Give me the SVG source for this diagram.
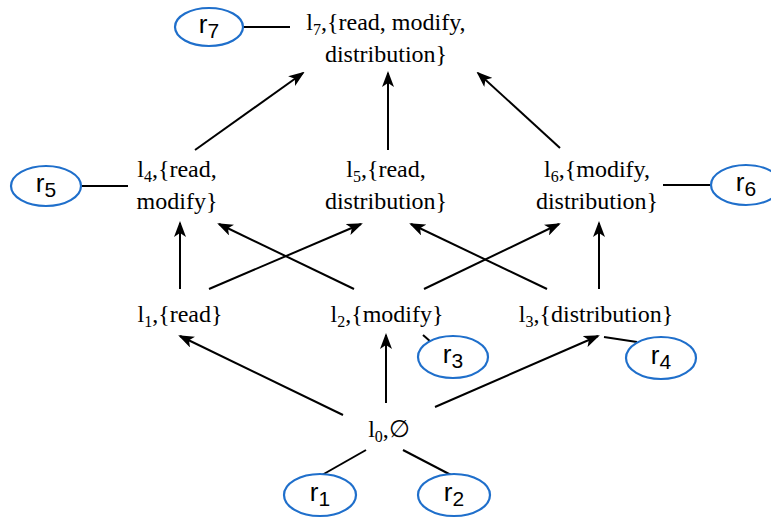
<svg xmlns="http://www.w3.org/2000/svg" width="771" height="527" viewBox="0 0 771 527">
<style>
.lbl{font-family:"Liberation Serif","Times New Roman",serif;font-size:24px;fill:#000;text-anchor:middle}
.sub{font-size:16px}
.rn{fill:#fff;stroke:#1f6fcb;stroke-width:2.2}
.rt{font-family:"Liberation Sans",Arial,sans-serif;font-size:26px;fill:#000;text-anchor:middle}
.rs{font-size:21px}
.ln{stroke:#000;stroke-width:2;fill:none}
.ar{stroke:#000;stroke-width:2;fill:none;marker-end:url(#ah)}
</style>
<defs>
<marker id="ah" viewBox="0 0 16 12" refX="14" refY="6" markerWidth="16" markerHeight="12" markerUnits="userSpaceOnUse" orient="auto">
<path d="M0,0 L16,6 L0,12 L4,6 Z" fill="#000"/>
</marker>
</defs>
<rect width="771" height="527" fill="#fff"/>
<g id="connectors">
<line class="ln" x1="243" y1="27" x2="290" y2="27"/>
<line class="ln" x1="81" y1="186" x2="128" y2="186"/>
<line class="ln" x1="663" y1="185" x2="711" y2="185"/>
<line class="ln" x1="423" y1="335" x2="431" y2="342"/>
<line class="ln" x1="604" y1="337" x2="637" y2="342"/>
<line class="ln" x1="366" y1="450" x2="322" y2="475"/>
<line class="ln" x1="403" y1="450" x2="451" y2="475"/>
<line class="ar" x1="343" y1="415" x2="180" y2="336"/>
<line class="ar" x1="386" y1="403" x2="386" y2="335"/>
<line class="ar" x1="435" y1="407" x2="598" y2="336"/>
<line class="ar" x1="180" y1="289" x2="180" y2="223"/>
<line class="ar" x1="209" y1="289" x2="361" y2="224"/>
<line class="ar" x1="354" y1="289" x2="219" y2="224"/>
<line class="ar" x1="424" y1="289" x2="559" y2="224"/>
<line class="ar" x1="547" y1="289" x2="411" y2="224"/>
<line class="ar" x1="599" y1="289" x2="599" y2="223"/>
<line class="ar" x1="195" y1="150" x2="303" y2="73"/>
<line class="ar" x1="388" y1="150" x2="388" y2="73"/>
<line class="ar" x1="560" y1="148" x2="478" y2="73"/>
</g>
<g id="l7"><text class="lbl" x="386" y="30">l<tspan class="sub" dy="5">7</tspan><tspan dy="-5">,{read, modify,</tspan></text><text class="lbl" x="386" y="62">distribution}</text></g>
<g id="l4"><text class="lbl" x="177" y="177">l<tspan class="sub" dy="5">4</tspan><tspan dy="-5">,{read,</tspan></text><text class="lbl" x="177" y="209">modify}</text></g>
<g id="l5"><text class="lbl" x="386" y="177">l<tspan class="sub" dy="5">5</tspan><tspan dy="-5">,{read,</tspan></text><text class="lbl" x="386" y="209">distribution}</text></g>
<g id="l6"><text class="lbl" x="597" y="177">l<tspan class="sub" dy="5">6</tspan><tspan dy="-5">,{modify,</tspan></text><text class="lbl" x="597" y="209">distribution}</text></g>
<g id="l1"><text class="lbl" x="180" y="322">l<tspan class="sub" dy="5">1</tspan><tspan dy="-5">,{read}</tspan></text></g>
<g id="l2"><text class="lbl" x="387" y="322">l<tspan class="sub" dy="5">2</tspan><tspan dy="-5">,{modify}</tspan></text></g>
<g id="l3"><text class="lbl" x="596" y="322">l<tspan class="sub" dy="5">3</tspan><tspan dy="-5">,{distribution}</tspan></text></g>
<g id="l0"><text class="lbl" x="389" y="437">l<tspan class="sub" dy="5">0</tspan><tspan dy="-5">,∅</tspan></text></g>
<g id="r7"><ellipse class="rn" cx="209" cy="27" rx="34" ry="19"/><text class="rt" x="209" y="33">r<tspan class="rs" dy="5">7</tspan></text></g>
<g id="r5"><ellipse class="rn" cx="46" cy="186" rx="35" ry="20"/><text class="rt" x="46" y="192">r<tspan class="rs" dy="5">5</tspan></text></g>
<g id="r6"><ellipse class="rn" cx="746" cy="185" rx="35" ry="20"/><text class="rt" x="746" y="191">r<tspan class="rs" dy="5">6</tspan></text></g>
<g id="r3"><ellipse class="rn" cx="453" cy="357" rx="35" ry="21"/><text class="rt" x="453" y="363">r<tspan class="rs" dy="5">3</tspan></text></g>
<g id="r4"><ellipse class="rn" cx="661" cy="358" rx="35" ry="21"/><text class="rt" x="661" y="364">r<tspan class="rs" dy="5">4</tspan></text></g>
<g id="r1"><ellipse class="rn" cx="320" cy="495" rx="36" ry="21"/><text class="rt" x="320" y="501">r<tspan class="rs" dy="5">1</tspan></text></g>
<g id="r2"><ellipse class="rn" cx="454" cy="495" rx="36" ry="21"/><text class="rt" x="454" y="501">r<tspan class="rs" dy="5">2</tspan></text></g>
</svg>
